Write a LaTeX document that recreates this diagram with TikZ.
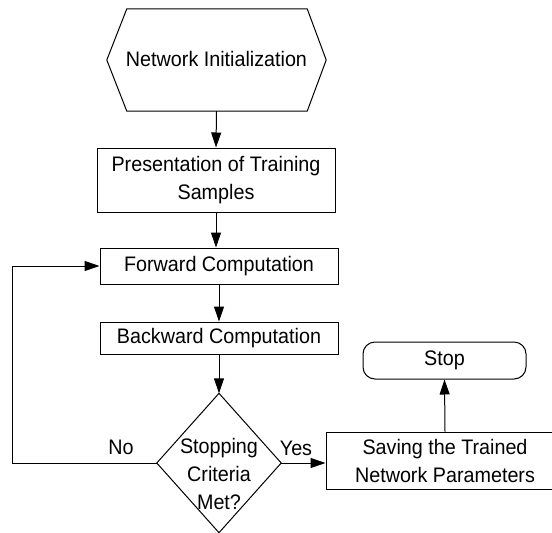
\documentclass[tikz,border=0pt]{standalone}
\usepackage{fontspec}
\setmainfont[FakeStretch=0.94]{Liberation Sans}
\usetikzlibrary{arrows.meta}
\begin{document}
\begin{tikzpicture}[x=1pt,y=-1pt,
  every node/.style={font=\fontsize{21}{28}\selectfont, align=center, inner sep=0pt},
  shapeline/.style={line width=1pt},
  box/.style={draw, shapeline, minimum width=238pt},
  conn/.style={line width=1pt, -{Triangle[length=15pt,width=10pt]}}]
\useasboundingbox (0,0) rectangle (552,533);
% start hexagon
\node[minimum width=219pt, minimum height=102pt] (init) at (216.5,60) {\raisebox{3pt}{Network Initialization}};
\draw[shapeline] (init.west) -- ([xshift=20pt]init.north west) -- ([xshift=-19pt]init.north east)
  -- (init.east) -- ([xshift=-19pt]init.south east) -- ([xshift=20pt]init.south west) -- cycle;
% process boxes
\node[box, minimum height=64pt] (pres) at (216,180) {Presentation of Training\\Samples};
\node[box, minimum height=36pt] (fwd) at (219,266) {Forward Computation};
\node[box, minimum height=32pt] (bwd) at (219,338) {Backward Computation};
% decision
\node[minimum width=124pt, minimum height=139pt] (dec) at (219,463) {};
\draw[shapeline] (dec.north) -- (dec.east) -- (dec.south) -- (dec.west) -- cycle;
\node (dectext) at (219,473.5) {Stopping\\Criteria\\Met?};
% saving and stop
\node[box, minimum height=57pt] (save) at (445,460.5) {Saving the Trained\\Network Parameters};
\node[draw, shapeline, rounded corners=12pt, minimum width=163pt, minimum height=37pt] (stop) at (444.5,360.5) {Stop};
% labels
\node (no) at (121,447) {No};
\node (yes) at (296,448) {Yes};
% connectors
\coordinate (loop) at (12,464);
\draw[conn] (init.south) -- (pres.north);
\draw[conn] (pres.south) -- (pres.south |- fwd.north);
\draw[conn] (fwd.south) -- (bwd.north);
\draw[conn] (bwd.south) -- (dec.north);
\draw[conn] (dec.west) -- (dec.west -| loop) |- (fwd.west);
\draw[conn] (dec.east) -- (dec.east -| save.west);
\draw[conn] (save.north) -- (stop.south);
\end{tikzpicture}
\end{document}
